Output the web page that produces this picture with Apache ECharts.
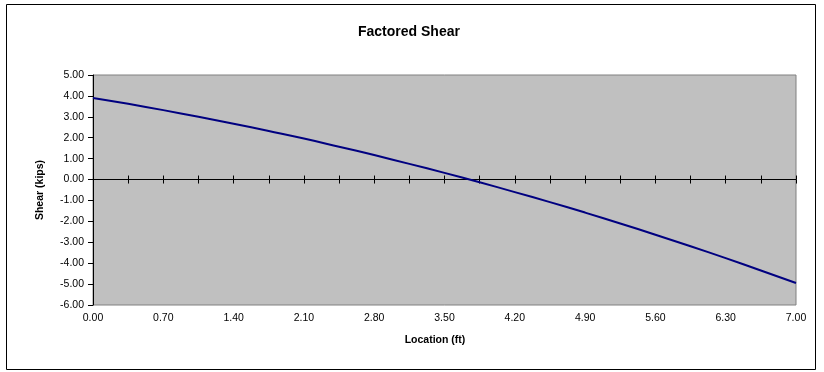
<!DOCTYPE html>
<html>
<head>
<meta charset="utf-8">
<style>
  html, body { margin: 0; padding: 0; background: #ffffff; }
  #chart { width: 824px; height: 372px; }
</style>
<script src="https://cdn.jsdelivr.net/npm/echarts@6/dist/echarts.min.js"></script>
</head>
<body>
<div id="chart"></div>
<script>
// Location along the member (ft)
const locations = [0.00, 0.35, 0.70, 1.05, 1.40, 1.75, 2.10, 2.45, 2.80, 3.15, 3.50,
                   3.85, 4.20, 4.55, 4.90, 5.25, 5.60, 5.95, 6.30, 6.65, 7.00];
// Factored shear at each location (kips)
const shear = [3.90, 3.62, 3.32, 3.00, 2.67, 2.32, 1.96, 1.57, 1.17, 0.75, 0.32,
               -0.13, -0.60, -1.08, -1.58, -2.10, -2.64, -3.19, -3.76, -4.35, -4.95];

const titleText = 'Factored Shear';
const xName = 'Location (ft)';
const yName = 'Shear (kips)';

const font = 'Liberation Sans, Arial, sans-serif';
const fmt2 = v => Number(v).toFixed(2);

const chart = echarts.init(document.getElementById('chart'), null, { renderer: 'canvas' });

chart.setOption({
  animation: false,
  backgroundColor: '#ffffff',
  textStyle: { fontFamily: font, color: '#000' },
  graphic: [{
    type: 'rect',
    shape: { x: 6.5, y: 4.5, width: 809, height: 365 },
    style: { fill: 'none', stroke: '#000', lineWidth: 1 },
    silent: true,
    z: -1
  }],
  title: {
    text: titleText,
    left: 358,
    top: 25,
    padding: 0,
    textStyle: { fontFamily: font, fontSize: 14, fontWeight: 'bold', color: '#000' }
  },
  grid: {
    left: 93, right: 28, top: 75, bottom: 67,
    show: true,
    backgroundColor: '#c0c0c0',
    borderColor: '#808080',
    borderWidth: 1
  },
  xAxis: [
    {
      // labels and title along the bottom of the plot
      type: 'value', min: 0, max: 7, interval: 0.7,
      position: 'bottom',
      axisLine: { show: false, onZero: false },
      axisTick: { show: false },
      splitLine: { show: false },
      axisLabel: { margin: 8, fontSize: 10.5, color: '#000', fontFamily: font, formatter: fmt2 },
      name: xName, nameLocation: 'middle', nameGap: 30,
      nameTextStyle: { fontFamily: font, fontSize: 10.5, fontWeight: 'bold', color: '#000', padding: [0, 19, 0, 0] }
    },
    {
      // zero line, ticks below
      type: 'value', min: 0, max: 7, interval: 0.35,
      position: 'bottom',
      axisLine: { show: true, onZero: true, onZeroAxisIndex: 0, lineStyle: { color: '#000', width: 1 } },
      axisTick: { show: true, length: 4, inside: false, lineStyle: { color: '#000' } },
      axisLabel: { show: false },
      splitLine: { show: false }
    },
    {
      // zero line, ticks above
      type: 'value', min: 0, max: 7, interval: 0.35,
      position: 'bottom',
      axisLine: { show: false, onZero: true, onZeroAxisIndex: 0 },
      axisTick: { show: true, length: 4, inside: true, lineStyle: { color: '#000' } },
      axisLabel: { show: false },
      splitLine: { show: false }
    }
  ],
  yAxis: {
    type: 'value', min: -6, max: 5, interval: 1,
    axisLine: { show: true, onZero: false, lineStyle: { color: '#000', width: 1 } },
    axisTick: { show: true, length: 5, lineStyle: { color: '#000' } },
    splitLine: { show: false },
    axisLabel: { margin: 9, fontSize: 10.5, color: '#000', fontFamily: font, formatter: fmt2 },
    name: yName, nameLocation: 'middle', nameGap: 47, nameRotate: 90,
    nameTextStyle: { fontFamily: font, fontSize: 10.5, fontWeight: 'bold', color: '#000' }
  },
  series: [{
    type: 'line',
    xAxisIndex: 0,
    data: locations.map((x, i) => [x, shear[i]]),
    smooth: true,
    showSymbol: false,
    lineStyle: { color: '#000080', width: 2 },
    z: 5
  }]
});
</script>
</body>
</html>
